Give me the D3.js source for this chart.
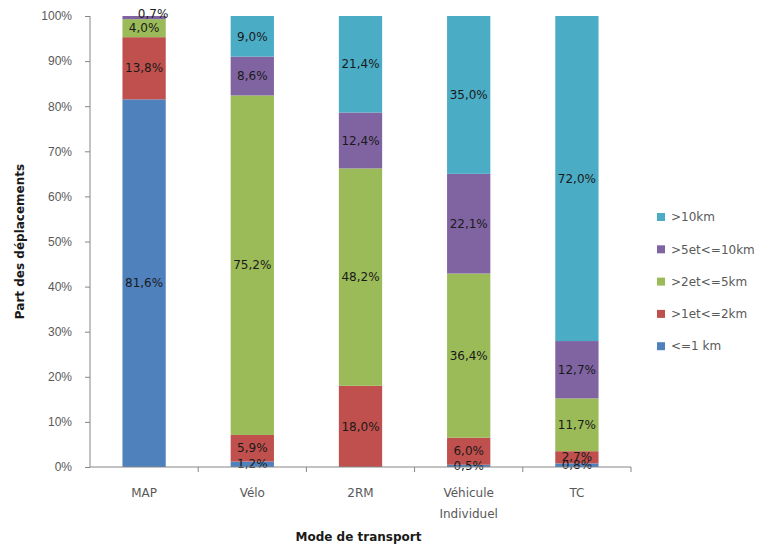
<!DOCTYPE html>
<html>
<head>
<meta charset="utf-8">
<script src="https://cdn.jsdelivr.net/npm/d3@7"></script>
<style>
  body { margin: 0; background: #fff; }
  svg { display: block; font-family: "DejaVu Sans", Verdana, sans-serif; }
</style>
</head>
<body>
<svg id="chart" width="760" height="546"></svg>
<script>
// Transport modes on the x axis
const modes = ["MAP", "Vélo", "2RM", "Véhicule Individuel", "TC"];
// Distance classes, bottom to top of each stack
const classes = ["<=1 km", ">1et<=2km", ">2et<=5km", ">5et<=10km", ">10km"];
const classColors = ["#4F81BD", "#C0504D", "#9BBB59", "#8064A2", "#4BACC6"];

// Share of trips per distance class (%), one entry per mode
const le1km   = [81.6, 1.2, 0.0, 0.5, 0.8];
const km1to2  = [13.8, 5.9, 18.0, 6.0, 2.7];
const km2to5  = [4.0, 75.2, 48.2, 36.4, 11.7];
const km5to10 = [0.7, 8.6, 12.4, 22.1, 12.7];
const gt10km  = [0.0, 9.0, 21.4, 35.0, 72.0];

const yTicks = [0, 0.1, 0.2, 0.3, 0.4, 0.5, 0.6, 0.7, 0.8, 0.9, 1.0];

const seriesValues = [le1km, km1to2, km2to5, km5to10, gt10km];
const rows = modes.map((m, i) => {
  const r = { mode: m };
  classes.forEach((c, k) => { r[c] = seriesValues[k][i]; });
  return r;
});

const svg = d3.select("#chart");
const margin = { left: 90, right: 129, top: 16, bottom: 79 };
const W = 760, H = 546;
const plotRight = 631;

const x = d3.scaleBand().domain(modes)
  .range([margin.left, plotRight]).paddingInner(0.6).paddingOuter(0.3);
const y = d3.scaleLinear().domain([0, 1]).range([H - margin.bottom, margin.top]);

const stack = d3.stack().keys(classes).offset(d3.stackOffsetExpand);
const layers = stack(rows);

const fmt = v => d3.format(".1f")(v).replace(".", ",") + "%";
const fontSize = "12px";

// Stacked bars
const g = svg.append("g");
layers.forEach((layer, k) => {
  g.selectAll(null).data(layer).enter().append("rect")
    .attr("x", d => x(d.data.mode))
    .attr("width", x.bandwidth())
    .attr("y", d => y(d[1]))
    .attr("height", d => Math.max(0, y(d[0]) - y(d[1])))
    .attr("fill", classColors[k]);
});

// Y axis
const axisColor = "#868686";
const yAxis = svg.append("g")
  .attr("transform", `translate(${margin.left},0)`)
  .call(d3.axisLeft(y).tickValues(yTicks).tickFormat(d3.format(".0%")).tickSize(5).tickPadding(13));
yAxis.select(".domain").attr("stroke", axisColor).attr("d", `M0,${y(1)}V${y(0)}`);
yAxis.selectAll(".tick line").attr("stroke", axisColor);
yAxis.selectAll("text").attr("fill", "#595959").style("font-size", fontSize)
  .style("font-family", "inherit");

// X axis: boundaries between categories carry the tick marks
const xAxisG = svg.append("g").attr("transform", `translate(0,${y(0)})`);
xAxisG.append("line").attr("x1", margin.left).attr("x2", plotRight)
  .attr("stroke", axisColor);
const boundaries = d3.range(1, modes.length + 1)
  .map(i => margin.left + i * (plotRight - margin.left) / modes.length);
xAxisG.selectAll(null).data(boundaries).enter().append("line")
  .attr("x1", d => d).attr("x2", d => d).attr("y1", 0).attr("y2", 5)
  .attr("stroke", axisColor);
const xl = svg.append("g").selectAll(null).data(modes).enter().append("text")
  .attr("x", d => x(d) + x.bandwidth() / 2)
  .attr("y", y(0) + 30)
  .attr("text-anchor", "middle")
  .attr("fill", "#595959")
  .style("font-size", fontSize);
xl.each(function(d) {
  const words = d === "Véhicule Individuel" ? ["Véhicule", "Individuel"] : [d];
  const t = d3.select(this);
  words.forEach((w, i) => {
    t.append("tspan").attr("x", x(d) + x.bandwidth() / 2).attr("dy", i === 0 ? 0 : 21).text(w);
  });
});

// Value labels centered in each segment; a sliver at the very top of a
// stack gets its label nudged up and right so it clears the one below
const isTopSliver = d => (y(d[0]) - y(d[1])) < 5 && d[1] > 0.999;
layers.forEach((layer, k) => {
  g.selectAll(null).data(layer.filter(d => d.data[classes[k]] > 0)).enter().append("text")
    .attr("x", d => x(d.data.mode) + x.bandwidth() / 2 + (isTopSliver(d) ? 9 : 0))
    .attr("y", d => (y(d[0]) + y(d[1])) / 2 - (isTopSliver(d) ? 4 : 0))
    .attr("dy", "0.35em")
    .attr("text-anchor", "middle")
    .attr("fill", "#1a1a1a")
    .style("font-size", fontSize)
    .text(d => fmt(d.data[classes[k]]));
});

// Axis titles
svg.append("text")
  .attr("x", (margin.left + plotRight) / 2 - 2)
  .attr("y", 541)
  .attr("text-anchor", "middle")
  .attr("fill", "#1a1a1a")
  .style("font-size", fontSize).style("font-weight", "bold")
  .text("Mode de transport");
svg.append("text")
  .attr("transform", `translate(24,${(y(0) + y(1)) / 2}) rotate(-90)`)
  .attr("text-anchor", "middle")
  .attr("fill", "#1a1a1a")
  .style("font-size", fontSize).style("font-weight", "bold")
  .text("Part des déplacements");

// Legend, top entry is the last stacked class
const legendItems = classes.map((c, k) => ({ c, color: classColors[k] })).reverse();
const lg = svg.append("g").attr("transform", "translate(657,217)");
const li = lg.selectAll(null).data(legendItems).enter().append("g")
  .attr("transform", (d, i) => `translate(0,${i * 32.3})`);
li.append("rect").attr("x", 0).attr("y", -4).attr("width", 8).attr("height", 8)
  .attr("fill", d => d.color);
li.append("text").attr("x", 14).attr("y", 0).attr("dy", "0.35em")
  .attr("fill", "#595959").style("font-size", fontSize).text(d => d.c);
</script>
</body>
</html>
